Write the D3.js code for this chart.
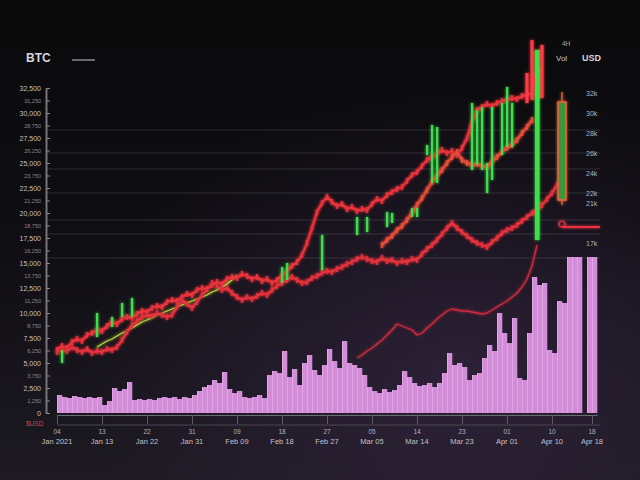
<!DOCTYPE html>
<html><head><meta charset="utf-8">
<script src="https://cdn.jsdelivr.net/npm/d3@7"></script>
<style>html,body{margin:0;padding:0;background:#0b0b0d;overflow:hidden}svg{display:block}</style>
</head><body><svg id="chart" width="640" height="480"></svg>
<script>
// ---- data (index = trading period, price in USD, volume in units) ----
const upperPrice = [6300,6700,6500,7100,7400,7200,7800,8000,8300,8200,8700,9100,8900,9400,9600,9500,9900,10200,10100,10500,10700,10600,11100,11300,11200,11600,11900,11800,12300,12500,12400,12800,13100,12900,13400,13600,13500,13900,13700,13400,13600,13200,13400,13000,13300,13700,14200,14700,15100,15800,17000,18500,20100,21000,21600,21100,20700,20900,20400,20600,20200,20400,20300,20900,21400,21200,21800,22100,22400,22600,23200,23800,24100,24700,25300,25600,25900,26300,26000,26200,25800,26500,27500,29100,30300,30600,30900,30700,31000,31200,31300,31500,31400,31700,31800,32000,34300,36500];
const lowerPrice = [6100,6400,6200,6600,6300,6100,6400,6000,6200,6100,6400,6300,6600,7300,8100,8800,9200,9600,9800,9700,10000,9800,9600,9800,10600,11300,10900,10500,11100,11800,12400,13000,12700,12300,12500,12000,11600,11300,11600,11400,11700,12000,11800,12300,12700,13000,13300,13600,13300,13000,13100,13500,13700,14000,14200,14100,14400,14600,14900,15100,15400,15600,15400,15200,15100,15500,15200,15300,15000,15200,15100,15400,15300,15900,16400,16800,17300,17900,18500,19000,18500,18100,17700,17300,17000,16800,16600,17100,17500,18000,18300,18500,18800,19200,19600,20000,20300,20800,21400,22000,22800];
const trendStart = 65;
const trendPrice = [16800,17300,17700,18300,18700,19300,20000,20800,21500,22300,23100,23700,24300,25000,25600,26100,25300,25000,24800,24900,24700,24600,25100,25600,26100,26500,26800,27300,28000,28600,29300];
const basisStart = 60;
const basisPrice = [5500,5800,6200,6500,6900,7300,7800,8300,8900,8700,8500,8300,7800,8000,8500,8900,9400,9800,10200,10400,10300,10200,10200,10100,10000,9900,10000,10300,10600,10900,11200,11600,12000,12600,13400,14700,16800];
const avgStart = 8;
const avgPrice = [6600,6900,7200,7400,7700,8000,8200,8500,8800,9100,9300,9500,9800,10000,10200,10400,10600,10800,11000,11200,11400,11600,11800,12100,12300,12600,12900,13300,13800];
const volume = [180,160,150,170,160,150,160,150,160,80,
  120,250,220,240,310,130,140,130,140,130,
  150,160,150,160,140,160,150,180,220,260,
  280,330,300,410,240,200,220,160,150,160,
  180,150,380,420,400,620,360,440,280,500,
  580,430,380,480,640,520,450,720,500,480,
  450,380,260,220,200,240,210,230,280,420,
  360,300,270,280,300,260,300,400,600,480,
  500,460,330,380,400,550,680,620,1000,800,
  700,950,350,330,800,1360,1280,1300,630,600,
  1120,1100,1560,1560,1560,0,1560,1560];
// [index, high, low]
const greenWicks = [[1,6300,5000],[8,10000,7600],[11,9600,8600],[13,11000,9600],[15,11500,9600],
  [45,14600,13000],[46,15000,13300],[53,17800,14300],[60,19600,17800],[62,19600,18100],
  [66,20100,18600],[67,20000,19000],[71,20500,19600],[72,20500,19600],[74,26800,25800],
  [75,28800,23000],[76,28600,23000],[83,31000,24300],[84,30300,24800],[85,30600,24300],
  [86,25000,22000],[87,30600,23300],[89,31000,25800],[90,32600,26600],[91,31000,26600]];
const bigWick = [96,36300,17300];
const redWicks = [[94,34000,31000],[95,37300,31300],[97,36800,31500]];
const lastCandle = {i:101, open:21300, close:31100, high:32100, low:20800};
const lastPrice = 18600;
const gridLevels = [28300,26000,24400,22000,19300,17900,15500];
const rightTicks = [32000,30000,28000,26000,24000,22000,21000,17000];
const xTickIdx = [0,9,18,27,36,45,54,63,72,81,90,99,107];
const xTopLabels = ["04","13","22","31","09","18","27","05","14","23","01","10","18"];
const xBottomLabels = ["Jan 2021","Jan 13","Jan 22","Jan 31","Feb 09","Feb 18","Feb 27","Mar 05","Mar 14","Mar 23","Apr 01","Apr 10","Apr 18"];

// ---- scales ----
const svg = d3.select("#chart");
const W = 640, H = 480;
const x = d3.scaleLinear().domain([0,108]).range([57,597]);
const y = d3.scaleLinear().domain([0,32500]).range([413,88]);
const v = d3.scaleLinear().domain([0,1600]).range([413,253]);

// ---- defs ----
const defs = svg.append("defs");
const bg = defs.append("linearGradient").attr("id","bg").attr("x1",0).attr("y1",0).attr("x2",0).attr("y2",1);
bg.append("stop").attr("offset","0%").attr("stop-color","#0a0a0b");
bg.append("stop").attr("offset","45%").attr("stop-color","#0e0d11");
bg.append("stop").attr("offset","100%").attr("stop-color","#1d1a22");
const tint = defs.append("radialGradient").attr("id","tint").attr("cx","72%").attr("cy","78%").attr("r","60%");
tint.append("stop").attr("offset","0%").attr("stop-color","#3a2848").attr("stop-opacity",0.6);
tint.append("stop").attr("offset","100%").attr("stop-color","#3a2848").attr("stop-opacity",0);
const glow = defs.append("filter").attr("id","glow").attr("x","-20%").attr("y","-20%").attr("width","140%").attr("height","140%");
glow.append("feGaussianBlur").attr("stdDeviation",1.6).attr("result","b");
const gm = glow.append("feMerge");
gm.append("feMergeNode").attr("in","b");
gm.append("feMergeNode").attr("in","SourceGraphic");

svg.append("rect").attr("width",W).attr("height",H).attr("fill","url(#bg)");
svg.append("rect").attr("width",W).attr("height",H).attr("fill","url(#tint)");

// ---- grid ----
svg.append("g").selectAll("line").data(gridLevels).join("line")
  .attr("x1",47).attr("x2",600).attr("y1",d=>y(d)).attr("y2",d=>y(d))
  .attr("stroke","#ffffff").attr("stroke-opacity",0.13).attr("stroke-width",1);

// ---- volume ----
const vol = svg.append("g");
vol.selectAll("rect").data(volume).join("rect")
  .attr("x",(d,i)=>x(i)).attr("width",x(1)-x(0)+0.3)
  .attr("y",d=>v(d)).attr("height",d=>v(0)-v(d))
  .attr("fill","#d28cd8");
vol.selectAll("line").data(volume).join("line")
  .attr("x1",(d,i)=>x(i)+0.5).attr("x2",(d,i)=>x(i)+0.5)
  .attr("y1",d=>v(d)).attr("y2",v(0))
  .attr("stroke","#f3c8f3").attr("stroke-opacity",d=>d>0?0.55:0).attr("stroke-width",0.8);

// ---- price lines ----
const line = d3.line().x(d=>x(d[0])).y(d=>y(d[1]));
const series = (arr, start) => arr.map((p,k)=>[start+k,p]);
const plot = svg.append("g").attr("filter","url(#glow)");
function drawLine(data, under, over, wU, wO){
  if (under) plot.append("path").attr("d",line(data)).attr("fill","none").attr("stroke",under).attr("stroke-width",wU).attr("stroke-opacity",0.55).attr("stroke-linejoin","round");
  plot.append("path").attr("d",line(data)).attr("fill","none").attr("stroke",over).attr("stroke-width",wO).attr("stroke-linejoin","round");
}
// small candle-body ticks along a series give it the dense bar texture
function drawTicks(data, color){
  plot.append("g").selectAll("rect").data(data).join("rect")
    .attr("x",d=>x(d[0])-1.2).attr("width",2.4)
    .attr("y",d=>y(d[1])-3).attr("height",6)
    .attr("fill",color).attr("fill-opacity",0.85);
}
drawLine(series(basisPrice,basisStart), null, "#d42a3c", 0, 1.3);
drawLine(series(avgPrice,avgStart), null, "#b9d13a", 0, 1.3);
drawLine(series(lowerPrice,0), "#a81c2a", "#ee3a40", 4, 1.8);
drawTicks(series(lowerPrice,0), "#e0303c");
drawLine(series(upperPrice,0), "#a81c2a", "#f0393e", 4, 1.8);
drawTicks(series(upperPrice,0), "#e8343e");
drawLine(series(trendPrice,trendStart), "#b8402a", "#f04a3a", 4, 1.8);
drawTicks(series(trendPrice,trendStart), "#e8503a");

// wicks
plot.append("g").selectAll("rect").data(greenWicks).join("rect")
  .attr("x",d=>x(d[0])-1).attr("width",2.2)
  .attr("y",d=>y(d[1])).attr("height",d=>y(d[2])-y(d[1]))
  .attr("fill","#3fdc4c");
plot.append("g").selectAll("rect").data(redWicks).join("rect")
  .attr("x",d=>x(d[0])-1.5).attr("width",3)
  .attr("y",d=>y(d[1])).attr("height",d=>y(d[2])-y(d[1]))
  .attr("fill","#ff3b46");
plot.append("rect").attr("x",x(bigWick[0])-2).attr("width",4.5)
  .attr("y",y(bigWick[1])).attr("height",y(bigWick[2])-y(bigWick[1]))
  .attr("fill","#3ee04a");
// latest candle
plot.append("line").attr("x1",x(lastCandle.i)).attr("x2",x(lastCandle.i))
  .attr("y1",y(lastCandle.high)).attr("y2",y(lastCandle.low)).attr("stroke","#f06a3a").attr("stroke-width",1.2);
plot.append("rect").attr("x",x(lastCandle.i)-4).attr("width",8)
  .attr("y",y(lastCandle.close)).attr("height",y(lastCandle.open)-y(lastCandle.close))
  .attr("fill","#2e9a3c").attr("fill-opacity",0.85).attr("stroke","#f0623a").attr("stroke-width",1.5);
// last price marker
plot.append("line").attr("x1",x(lastCandle.i)).attr("x2",x(108)+3)
  .attr("y1",y(lastPrice)).attr("y2",y(lastPrice)).attr("stroke","#e8323e").attr("stroke-width",1.8);
plot.append("circle").attr("cx",x(lastCandle.i)).attr("cy",y(lastPrice)-3).attr("r",3)
  .attr("fill","none").attr("stroke","#e8323e").attr("stroke-width",1.2);

// ---- axes ----
const font = "'Liberation Sans', Arial, sans-serif";
const yTicks = d3.range(0, 32501, 1250);
const yAxis = svg.append("g").attr("transform","translate(46,0)")
  .call(d3.axisLeft(y).tickValues(yTicks).tickSizeInner(-4).tickSizeOuter(0).tickPadding(5).tickFormat(d3.format(",")));
yAxis.select(".domain").attr("stroke","#77737c").attr("stroke-width",2);
yAxis.selectAll(".tick line").attr("stroke","#8a8690");
yAxis.selectAll(".tick text").attr("fill",(d,i)=>i%2?"#8c8892":"#c4c0c8")
  .attr("font-size",(d,i)=>i%2?5.5:7).attr("font-family",font);

const rAxis = svg.append("g").attr("transform","translate(582,0)")
  .call(d3.axisRight(y).tickValues(rightTicks).tickSize(0).tickPadding(4).tickFormat(d3.format(".3~s")));
rAxis.select(".domain").remove();
rAxis.selectAll(".tick text").attr("fill","#b8b4bc").attr("font-size",7).attr("font-family",font);

const xAxis = svg.append("g").attr("transform","translate(0,415)")
  .call(d3.axisBottom(x).tickValues(xTickIdx).tickSizeInner(9).tickSizeOuter(0).tickFormat(""));
xAxis.select(".domain").attr("stroke","#6e6a74").attr("stroke-width",1.2);
xAxis.selectAll(".tick line").attr("stroke","#5e5a64");
svg.append("line").attr("x1",57).attr("x2",600).attr("y1",425).attr("y2",425).attr("stroke","#4a4650").attr("stroke-width",1);

svg.append("g").selectAll("text").data(xTickIdx).join("text")
  .attr("x",d=>x(d)).attr("y",434).attr("text-anchor","middle")
  .attr("fill","#b4b0b8").attr("font-size",6.5).attr("font-family",font)
  .text((d,i)=>xTopLabels[i]);
svg.append("g").selectAll("text").data(xTickIdx).join("text")
  .attr("x",d=>x(d)).attr("y",444).attr("text-anchor","middle")
  .attr("fill","#c4c0c8").attr("font-size",7.5).attr("font-family",font)
  .text((d,i)=>xBottomLabels[i]);

// ---- titles ----
svg.append("text").attr("x",26).attr("y",62).attr("fill","#d6d4d8").attr("font-size",12)
  .attr("font-weight","bold").attr("font-family",font).text("BTC");
svg.append("line").attr("x1",72).attr("x2",95).attr("y1",60).attr("y2",60).attr("stroke","#8a888c").attr("stroke-width",1.5);
svg.append("text").attr("x",562).attr("y",46).attr("fill","#a8a4ac").attr("font-size",6.5).attr("font-family",font).text("4H");
svg.append("text").attr("x",556).attr("y",61).attr("fill","#c8c4cc").attr("font-size",8).attr("font-family",font).text("Vol");
svg.append("text").attr("x",582).attr("y",61).attr("fill","#d8d4dc").attr("font-size",9).attr("font-weight","bold").attr("font-family",font).text("USD");
svg.append("text").attr("x",26).attr("y",426).attr("fill","#c04a5a").attr("font-size",6.5).attr("font-family",font).text("$USD");
</script></body></html>
